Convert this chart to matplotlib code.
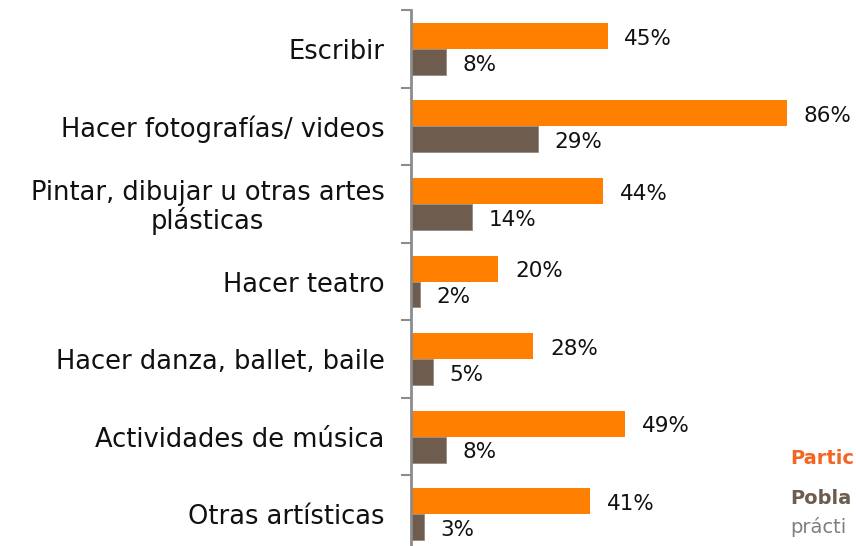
import matplotlib.pyplot as plt
import numpy as np

categories = ["Escribir", "Hacer fotografías/ videos",
              "Pintar, dibujar u otras artes\nplásticas", "Hacer teatro",
              "Hacer danza, ballet, baile", "Actividades de música",
              "Otras artísticas"]
participantes = [45, 86, 44, 20, 28, 49, 41]
poblacion = [8, 29, 14, 2, 5, 8, 3]
# legend texts as visible (cut at the right border in the original)
legend_texts = ["Partic", "Pobla", "prácti"]

ORANGE = "#FF7F00"
BROWN = "#6E5C4E"
GRAY = "#8C8C8C"

plt.rcParams['font.family'] = ['DejaVu Sans']

fig = plt.figure(figsize=(8.56, 5.46), dpi=100)
W, H = 856, 546
left, top, bottom = 411, 10, 553
ax = fig.add_axes([left / W, 1 - bottom / H, 1 - left / W, (bottom - top) / H])

y = np.arange(len(categories)) + 0.5
h = 0.335
ax.barh(y - h / 2, participantes, height=h, color=ORANGE)
ax.barh(y + h / 2, poblacion, height=h, color=BROWN, edgecolor="#9A8A7E", linewidth=0.6)

for yi, v in zip(y, participantes):
    ax.annotate(f"{v}%", (v, yi - h / 2), xytext=(12, -2), textcoords="offset points",
                va="center", ha="left", fontsize=15.5, color="#111111")
for yi, v in zip(y, poblacion):
    ax.annotate(f"{v}%", (v, yi + h / 2), xytext=(12, -2), textcoords="offset points",
                va="center", ha="left", fontsize=15.5, color="#111111")

ax.set_xlim(0, (W - left) / 4.37)
ax.set_ylim(len(categories), 0)
ax.set_yticks(np.arange(len(categories) + 1))
ax.set_yticklabels([])
ax.set_yticks(y, minor=True)
ax.set_yticklabels(categories, minor=True, fontsize=18.5, multialignment="center",
                   linespacing=1.05, color="#111111")
ax.tick_params(axis="y", which="major", length=7, width=1.5, color=GRAY, direction="out")
ax.tick_params(axis="y", which="minor", length=0, pad=19)
ax.set_xticks([])
for s in ["top", "right", "bottom"]:
    ax.spines[s].set_visible(False)
ax.spines["left"].set_color(GRAY)
ax.spines["left"].set_linewidth(2)

fig.text(790 / W, 1 - 458 / H, legend_texts[0], color="#F26522", fontsize=14,
         fontweight="bold", va="center", ha="left")
fig.text(790 / W, 1 - 498 / H, legend_texts[1], color=BROWN, fontsize=14,
         fontweight="bold", va="center", ha="left")
fig.text(790 / W, 1 - 527 / H, legend_texts[2], color="#7F7F7F", fontsize=14,
         va="center", ha="left")

fig.savefig("out.png", dpi=100)
